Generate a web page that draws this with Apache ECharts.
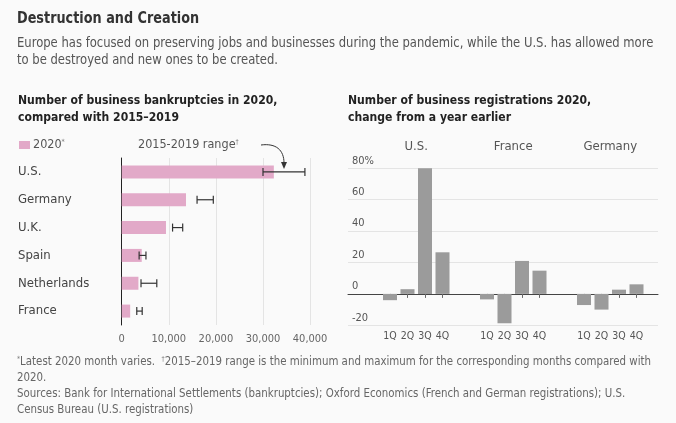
<!DOCTYPE html>
<html><head><meta charset="utf-8">
<script src="https://cdn.jsdelivr.net/npm/echarts@6/dist/echarts.min.js"></script>
<style>html,body{margin:0;padding:0;background:#fafafa}#c{width:676px;height:423px}</style>
</head><body><div id="c"></div>
<script>
const countries = ['U.S.', 'Germany', 'U.K.', 'Spain', 'Netherlands', 'France'];
const bankruptcies2020 = [32300, 13650, 9400, 4250, 3550, 1800];
const rangeMin = [30000, 16000, 10800, 3700, 4100, 3200];
const rangeMax = [38900, 19450, 12950, 5150, 7450, 4350];
const bankruptcyTicks = [0, 10000, 20000, 30000, 40000];

const quarters = ['1Q', '2Q', '3Q', '4Q'];
const regGroups = ['U.S.', 'France', 'Germany'];
const usReg = [-4, 3, 82, 26.5];
const franceReg = [-3.5, -18.7, 21, 14.8];
const germanyReg = [-7.1, -10, 2.7, 6.1];
const regTicks = [-20, 0, 20, 40, 60, 80];

const FONT = '"DejaVu Sans Condensed", "Liberation Sans Narrow", "Roboto", sans-serif';
const chart = echarts.init(document.getElementById('c'), null, {renderer: 'canvas'});

const regData = [usReg, franceReg, germanyReg];
const regLeft = [381.25, 478.25, 575.25];
const slotW = 70;
const regTop = 168.3, regH = 157;

const grids = [
  {left: 121.7, top: 158, width: 188.4, height: 167},
  {left: 348, top: regTop, width: 310, height: regH}
];
regLeft.forEach(l => grids.push({left: l, top: regTop, width: slotW, height: regH}));

const xAxes = [
  {gridIndex: 0, type: 'value', min: bankruptcyTicks[0], max: bankruptcyTicks[bankruptcyTicks.length - 1], interval: 10000,
   axisLine: {show: false}, axisTick: {show: false},
   splitLine: {lineStyle: {color: '#e4e4e4'}},
   axisLabel: {color: '#666', fontSize: 11, fontFamily: FONT, margin: 9,
     formatter: v => v === 0 ? '0' : v.toLocaleString('en-US')}},
  {gridIndex: 1, type: 'category', data: ['a'], axisLabel: {show: false},
   axisTick: {show: false}, axisLine: {show: true, onZero: true, lineStyle: {color: '#444', width: 1}}}
];
const yAxes = [
  {gridIndex: 0, type: 'category', data: countries, inverse: true,
   axisLine: {show: true, lineStyle: {color: '#222', width: 1}}, axisTick: {show: false},
   axisLabel: {color: '#444', fontSize: 13, fontFamily: FONT, align: 'left', margin: 103.7}},
  {gridIndex: 1, type: 'value', min: regTicks[0], max: regTicks[regTicks.length - 1], interval: 20,
   axisLine: {show: false}, axisTick: {show: false},
   splitLine: {lineStyle: {color: '#e4e4e4'}},
   axisLabel: {inside: true, color: '#555', fontSize: 11, fontFamily: FONT, margin: 4,
     verticalAlign: 'bottom', align: 'left', padding: [0, 0, 2, 0],
     formatter: v => v === 80 ? '80%' : String(v)}}
];
regLeft.forEach((l, i) => {
  xAxes.push({gridIndex: i + 2, type: 'category', data: quarters,
    axisLine: {show: false}, position: 'bottom',
    axisTick: {show: true, alignWithLabel: true, length: 4, lineStyle: {color: '#666'}},
    axisLabel: {color: '#555', fontSize: 10.5, fontFamily: FONT, margin: 5, interval: 0}});
  yAxes.push({gridIndex: i + 2, type: 'value', min: -20, max: 80, show: false, splitLine: {show: false}});
});

const series = [
  {type: 'bar', xAxisIndex: 0, yAxisIndex: 0, data: bankruptcies2020, barWidth: 13,
   itemStyle: {color: '#e2a9c8'}, silent: true},
  {type: 'custom', xAxisIndex: 0, yAxisIndex: 0,
   data: countries.map((c, i) => [i, rangeMin[i], rangeMax[i]]),
   renderItem: (params, api) => {
     const a = api.coord([api.value(1), api.value(0)]);
     const b = api.coord([api.value(2), api.value(0)]);
     const h = 4;
     const st = {stroke: '#333', lineWidth: 1.2};
     return {type: 'group', children: [
       {type: 'line', shape: {x1: a[0], y1: a[1], x2: b[0], y2: b[1]}, style: st},
       {type: 'line', shape: {x1: a[0], y1: a[1] - h, x2: a[0], y2: a[1] + h}, style: st},
       {type: 'line', shape: {x1: b[0], y1: b[1] - h, x2: b[0], y2: b[1] + h}, style: st}
     ]};
   }, silent: true, z: 5}
];
regData.forEach((d, i) => {
  series.push({type: 'bar', xAxisIndex: i + 2, yAxisIndex: i + 2, data: d, barWidth: 14,
    itemStyle: {color: '#9b9b9b'}, silent: true});
});

const SUP = {s: {fontSize: 7, verticalAlign: 'top', fill: '#777', fontFamily: FONT, padding: [0, 0, 5, 0]}};
const txt = (x, y, text, size, color, weight, sx, align) => ({
  type: 'text', x: x, y: y, scaleX: sx || 1, silent: true,
  style: {text: text, font: (weight || 'normal') + ' ' + size + 'px ' + FONT, fill: color,
    textVerticalAlign: 'middle', textAlign: align || 'left', rich: SUP}
});

const graphics = [
  txt(17, 19, 'Destruction and Creation', 15.5, '#333', 'bold', 0.92),
  txt(17, 43, 'Europe has focused on preserving jobs and businesses during the pandemic, while the U.S. has allowed more', 13.5, '#555', null, 0.955),
  txt(17, 60, 'to be destroyed and new ones to be created.', 13.5, '#555', null, 0.955),
  txt(18, 101, 'Number of business bankruptcies in 2020,', 12.5, '#222', 'bold', 0.966),
  txt(18, 118, 'compared with 2015\u20132019', 12.5, '#222', 'bold', 0.966),
  txt(348, 101, 'Number of business registrations 2020,', 12.5, '#222', 'bold', 0.966),
  txt(348, 118, 'change from a year earlier', 12.5, '#222', 'bold', 0.966),
  {type: 'rect', x: 19, y: 141, shape: {width: 11, height: 8}, style: {fill: '#e2a9c8'}, silent: true},
  txt(33, 145, '2020{s|*}', 12.5, '#555'),
  txt(138, 145, '2015-2019 range{s|\u2020}', 12.5, '#555'),
  {type: 'bezierCurve', silent: true, shape: {x1: 261, y1: 145, cpx1: 276, cpy1: 143, cpx2: 284, cpy2: 150, x2: 284, y2: 163},
   style: {stroke: '#333', lineWidth: 1, fill: null}},
  {type: 'polygon', silent: true, shape: {points: [[281, 162], [287, 162], [284, 169]]}, style: {fill: '#333'}},
  txt(17, 362, '{s|*}Latest 2020 month varies.  {s|\u2020}2015\u20132019 range is the minimum and maximum for the corresponding months compared with', 11.5, '#666', null, 0.99),
  txt(17, 378, '2020.', 11.5, '#666', null, 0.99),
  txt(17, 394, 'Sources: Bank for International Settlements (bankruptcies); Oxford Economics (French and German registrations); U.S.', 11.5, '#666', null, 0.99),
  txt(17, 410, 'Census Bureau (U.S. registrations)', 11.5, '#666', null, 0.99)
];
regGroups.forEach((g, i) => {
  graphics.push(txt(regLeft[i] + slotW / 2, 147, g, 13, '#555', null, 1, 'center'));
});

chart.setOption({
  backgroundColor: '#fafafa',
  animation: false,
  grid: grids,
  xAxis: xAxes,
  yAxis: yAxes,
  series: series,
  graphic: graphics
});
</script></body></html>
